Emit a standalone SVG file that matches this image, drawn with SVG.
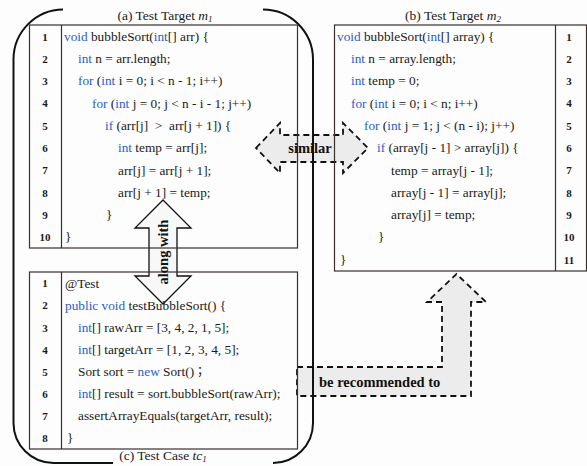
<svg xmlns="http://www.w3.org/2000/svg" width="587" height="466" viewBox="0 0 587 466">
  <style>
    .code { font-family: "Liberation Serif", "Times New Roman", serif; font-size: 13.3px; fill: #1a1a1a; }
    .kw { fill: #2b5fc7; }
    .num { font-family: "Liberation Serif", "Times New Roman", serif; font-size: 11px; font-weight: bold; fill: #1a1a1a; text-anchor: middle; }
    .title { font-family: "Liberation Serif", "Times New Roman", serif; font-size: 13.5px; fill: #1a1a1a; text-anchor: middle; }
    .it { font-style: italic; }
    .box { fill: none; stroke: #3a302e; stroke-width: 1.2; }
    .frame { fill: none; stroke: #111; stroke-width: 2; }
    .dash { fill: #ececec; stroke: #111; stroke-width: 1.8; stroke-dasharray: 6 4; }
    .solid { fill: #f8f8f8; stroke: #111; stroke-width: 1.3; }
    .lbl { font-family: "Liberation Serif", "Times New Roman", serif; font-size: 14.5px; font-weight: bold; fill: #111; }
  </style>

  <rect x="0" y="0" width="587" height="466" fill="#fdfdfd"/>

  <!-- connectors (drawn first so box borders cross them) -->
  <g id="connectors">
    <g id="edge-along-with">
      <polygon class="solid" points="163,200 191,228 177,228 177,276 191,276 163,304 135,276 149,276 149,228 135,228"/>
    </g>
    <g id="edge-similar">
      <polygon class="dash" points="256,148 280,123 280,135 343,135 343,123 368,148 343,173 343,162 280,162 280,173"/>
    </g>
    <g id="edge-recommended">
      <polygon class="dash" points="297,367 442,367 442,302 427,302 456.5,274 486,302 471,302 471,396 297,396"/>
    </g>
  </g>

  <!-- rounded frame around m1 and tc1 -->
  <g id="frame">
    <path class="frame" d="M63,9.5 A50,50 0 0 0 13.5,59 L13.5,423 A40,40 0 0 0 53.5,463 L113,463"/>
    <path class="frame" d="M263,9.5 A50,50 0 0 1 313,59 L313,423 A40,40 0 0 1 273,463"/>
    <text class="title" x="163" y="460">(c) Test Case <tspan class="it">tc</tspan><tspan class="it" font-size="9" dy="2">1</tspan></text>
  </g>

  <!-- (a) Test Target m1 -->
  <g id="box-a">
    <text class="title" x="165" y="19.5">(a) Test Target <tspan class="it">m</tspan><tspan class="it" font-size="9" dy="2">1</tspan></text>
    <rect class="box" x="29.5" y="25" width="268" height="223"/>
    <line class="box" x1="61.5" y1="25" x2="61.5" y2="248"/>
    <g>
      <text class="num" x="45" y="40.5">1</text>
      <text class="num" x="45" y="62.8">2</text>
      <text class="num" x="45" y="85.1">3</text>
      <text class="num" x="45" y="107.4">4</text>
      <text class="num" x="45" y="129.7">5</text>
      <text class="num" x="45" y="152">6</text>
      <text class="num" x="45" y="174.3">7</text>
      <text class="num" x="45" y="196.6">8</text>
      <text class="num" x="45" y="218.9">9</text>
      <text class="num" x="45" y="241.2">10</text>
    </g>
    <g>
      <text class="code" x="64" y="40.7"><tspan class="kw">void</tspan> bubbleSort(<tspan class="kw">int</tspan>[] arr) {</text>
      <text class="code" x="78" y="63"><tspan class="kw">int</tspan> n = arr.length;</text>
      <text class="code" x="78" y="85.3"><tspan class="kw">for</tspan> (<tspan class="kw">int</tspan> i = 0; i &lt; n - 1; i++)</text>
      <text class="code" x="92" y="107.6"><tspan class="kw">for</tspan> (<tspan class="kw">int</tspan> j = 0; j &lt; n - i - 1; j++)</text>
      <text class="code" x="105" y="129.9" xml:space="preserve"><tspan class="kw">if</tspan> (arr[j]  &gt;  arr[j + 1]) {</text>
      <text class="code" x="118" y="152.2"><tspan class="kw">int</tspan> temp = arr[j];</text>
      <text class="code" x="118" y="174.5">arr[j] = arr[j + 1];</text>
      <text class="code" x="118" y="196.8">arr[j + 1] = temp;</text>
      <text class="code" x="106" y="219.1">}</text>
      <text class="code" x="65" y="241.4">}</text>
    </g>
  </g>

  <!-- (b) Test Target m2 -->
  <g id="box-b">
    <text class="title" x="453" y="19.5">(b) Test Target <tspan class="it">m</tspan><tspan class="it" font-size="9" dy="2">2</tspan></text>
    <rect class="box" x="334.5" y="25" width="252" height="246"/>
    <line class="box" x1="555.5" y1="25" x2="555.5" y2="271"/>
    <g>
      <text class="num" x="569" y="40.5">1</text>
      <text class="num" x="569" y="62.8">2</text>
      <text class="num" x="569" y="85.1">3</text>
      <text class="num" x="569" y="107.4">4</text>
      <text class="num" x="569" y="129.7">5</text>
      <text class="num" x="569" y="152">6</text>
      <text class="num" x="569" y="174.3">7</text>
      <text class="num" x="569" y="196.6">8</text>
      <text class="num" x="569" y="218.9">9</text>
      <text class="num" x="569" y="241.2">10</text>
      <text class="num" x="569" y="263.5">11</text>
    </g>
    <g>
      <text class="code" x="337" y="40.7"><tspan class="kw">void</tspan> bubbleSort(<tspan class="kw">int</tspan>[] array) {</text>
      <text class="code" x="351" y="63"><tspan class="kw">int</tspan> n = array.length;</text>
      <text class="code" x="351" y="85.3"><tspan class="kw">int</tspan> temp = 0;</text>
      <text class="code" x="351" y="107.6"><tspan class="kw">for</tspan> (<tspan class="kw">int</tspan> i = 0; i &lt; n; i++)</text>
      <text class="code" x="364" y="129.9"><tspan class="kw">for</tspan> (<tspan class="kw">int</tspan> j = 1; j &lt; (n - i); j++)</text>
      <text class="code" x="377" y="152.2"><tspan class="kw">if</tspan> (array[j - 1] &gt; array[j]) {</text>
      <text class="code" x="391" y="174.5">temp = array[j - 1];</text>
      <text class="code" x="391" y="196.8">array[j - 1] = array[j];</text>
      <text class="code" x="391" y="219.1">array[j] = temp;</text>
      <text class="code" x="378" y="241.4">}</text>
      <text class="code" x="340" y="263.7">}</text>
    </g>
  </g>

  <!-- (c) Test Case tc1 -->
  <g id="box-c">
    <rect class="box" x="29.5" y="272" width="268" height="177"/>
    <line class="box" x1="61.5" y1="272" x2="61.5" y2="449"/>
    <g>
      <text class="num" x="45" y="287.3">1</text>
      <text class="num" x="45" y="309.4">2</text>
      <text class="num" x="45" y="331.5">3</text>
      <text class="num" x="45" y="353.6">4</text>
      <text class="num" x="45" y="375.7">5</text>
      <text class="num" x="45" y="397.8">6</text>
      <text class="num" x="45" y="419.9">7</text>
      <text class="num" x="45" y="442">8</text>
    </g>
    <g>
      <text class="code" x="65" y="287.5">@Test</text>
      <text class="code" x="65" y="309.6"><tspan class="kw">public void</tspan> testBubbleSort() {</text>
      <text class="code" x="78" y="331.7"><tspan class="kw">int</tspan>[] rawArr = [3, 4, 2, 1, 5];</text>
      <text class="code" x="78" y="353.8"><tspan class="kw">int</tspan>[] targetArr = [1, 2, 3, 4, 5];</text>
      <text class="code" x="78" y="375.9">Sort sort = <tspan class="kw">new</tspan> Sort()<tspan font-family="'Noto Sans CJK TC', sans-serif" font-size="12">；</tspan></text>
      <text class="code" x="78" y="398"><tspan class="kw">int</tspan>[] result = sort.bubbleSort(rawArr);</text>
      <text class="code" x="78" y="420.1">assertArrayEquals(targetArr, result);</text>
      <text class="code" x="67" y="442.2">}</text>
    </g>
  </g>

  <!-- connector labels -->
  <g id="labels">
    <text class="lbl" x="163" y="256.5" text-anchor="middle" transform="rotate(-90 163 252)">along with</text>
    <text class="lbl" x="310" y="153" text-anchor="middle">similar</text>
    <text class="lbl" x="319" y="387">be recommended to</text>
  </g>
</svg>
